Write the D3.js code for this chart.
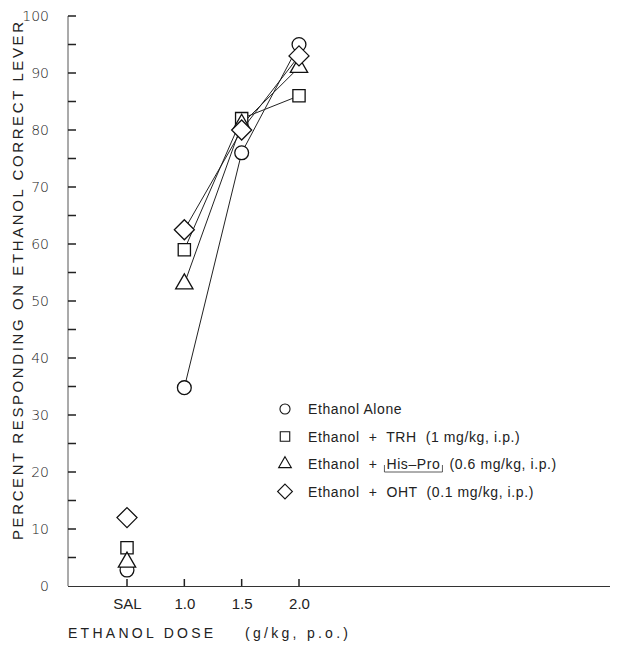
<!DOCTYPE html>
<meta charset="utf-8">
<body style="margin:0;background:#fff">
<style>
  text { font-family: "Liberation Sans", Arial, sans-serif; fill: #222; }
  .line { fill: none; stroke: #222; stroke-width: 1px; }
  .mark { fill: #fff; stroke: #111; stroke-width: 1.3px; }
</style>
<script src="https://d3js.org/d3.v7.min.js"></script>
<script>
var doses = ["SAL", "1.0", "1.5", "2.0"];
var yTicks = [0, 10, 20, 30, 40, 50, 60, 70, 80, 90, 100];
var yMinor = [5, 10, 15, 20, 25, 30, 35, 40, 45, 50, 55, 60, 65, 70, 75, 80, 85, 90, 95, 100];

var alone  = [2.8, 34.8, 76.0, 95.0];
var trh    = [6.7, 59.0, 82.0, 86.0];
var hisPro = [4.2, 53.0, 81.0, 91.0];
var oht    = [12.0, 62.5, 80.0, 93.0];

var seriesNames = ["Ethanol Alone", "Ethanol  +  TRH  (1 mg/kg, i.p.)",
  "Ethanol  +  His\u2013Pro  (0.6 mg/kg, i.p.)", "Ethanol  +  OHT  (0.1 mg/kg, i.p.)"];

// diamond as a square turned 45deg, same width and height
var diamond = { draw: function(ctx, size) {
  var r = Math.sqrt(size / 2);
  ctx.moveTo(0, -r); ctx.lineTo(r, 0); ctx.lineTo(0, r); ctx.lineTo(-r, 0); ctx.closePath();
}};
var symbols = [d3.symbolCircle, d3.symbolSquare, d3.symbolTriangle, diamond];

var width = 639, height = 645;
var svg = d3.select("body").append("svg").attr("width", width).attr("height", height);

var x = d3.scalePoint().domain(doses).range([127, 299]);
var y = d3.scaleLinear().domain([0, 100]).range([586, 16]);

// y axis labels
svg.append("g").attr("transform", "translate(68,0)")
  .call(d3.axisLeft(y).tickValues(yTicks).tickSize(0).tickPadding(19))
  .call(g => g.select(".domain").remove())
  .selectAll("text").style("font-size", "14px").style("font-family", "DejaVu Sans")
  .style("font-weight", "200").attr("fill", "#333");
svg.append("g").attr("transform", "translate(0,586)")
  .call(d3.axisBottom(x).tickSize(0).tickPadding(12))
  .call(g => g.select(".domain").remove())
  .selectAll("text").style("font-size", "15px").attr("fill", "#222");

// axis lines and inward ticks
svg.append("line").attr("x1", 68).attr("x2", 68).attr("y1", y(0)).attr("y2", y(100))
  .attr("stroke", "#444").attr("stroke-width", 0.9);
svg.append("path").attr("fill", "none").attr("stroke", "#222").attr("stroke-width", 1.5)
  .attr("d", yMinor.map(d => "M68," + y(d) + "h8").join(""));
svg.append("line").attr("x1", 68).attr("x2", 610).attr("y1", 586.5).attr("y2", 586.5)
  .attr("stroke", "#333").attr("stroke-width", 1);
svg.append("path").attr("fill", "none").attr("stroke", "#222").attr("stroke-width", 1.5)
  .attr("d", doses.map(d => "M" + x(d) + ",586v-7").join(""));

svg.append("text").attr("x", 68).attr("y", 638).style("font-size", "14px")
  .attr("textLength", 280).attr("lengthAdjust", "spacing")
  .style("white-space", "pre").text("ETHANOL DOSE    (g/kg, p.o.)");

svg.append("text").attr("transform", "translate(23,281) rotate(-90)")
  .attr("text-anchor", "middle").style("font-size", "15px")
  .attr("textLength", 518).attr("lengthAdjust", "spacing")
  .text("PERCENT RESPONDING ON ETHANOL CORRECT LEVER");

// series
var allSeries = [alone, trh, hisPro, oht];
var sizes = [150, 150, 130, 200];
var legSizes = [80, 90, 70, 110];
var line = d3.line().x((d, i) => x(doses[i + 1])).y(d => y(d));

allSeries.forEach(function(vals) {
  svg.append("path").attr("class", "line").attr("d", line(vals.slice(1)));
});
allSeries.forEach(function(vals, k) {
  svg.append("g").selectAll("path").data(vals).enter().append("path")
    .attr("class", "mark")
    .attr("transform", (d, i) => "translate(" + x(doses[i]) + "," + y(d) + ")")
    .attr("d", d3.symbol().type(symbols[k]).size(sizes[k]));
});

// legend
var leg = svg.append("g").attr("transform", "translate(285,409)");
seriesNames.forEach(function(name, k) {
  var row = leg.append("g").attr("transform", "translate(0," + (k * 27.5) + ")");
  row.append("path").attr("class", "mark").style("stroke-width", "1.1px")
    .attr("d", d3.symbol().type(symbols[k]).size(legSizes[k]));
  row.append("text").attr("x", 23).attr("y", 5).style("font-size", "14px")
    .style("white-space", "pre").style("letter-spacing", "0.6px").text(name);
});
// bracket under His-Pro
var hpRow = leg.selectAll("text").nodes()[2];
var s0 = hpRow.getSubStringLength(0, 12), s1 = hpRow.getSubStringLength(0, 19);
leg.append("path").attr("fill", "none").attr("stroke", "#333").attr("stroke-width", 0.8)
  .attr("d", "M" + (21 + s0) + ",56V63H" + (25 + s1) + "V56");
</script>
</body>
